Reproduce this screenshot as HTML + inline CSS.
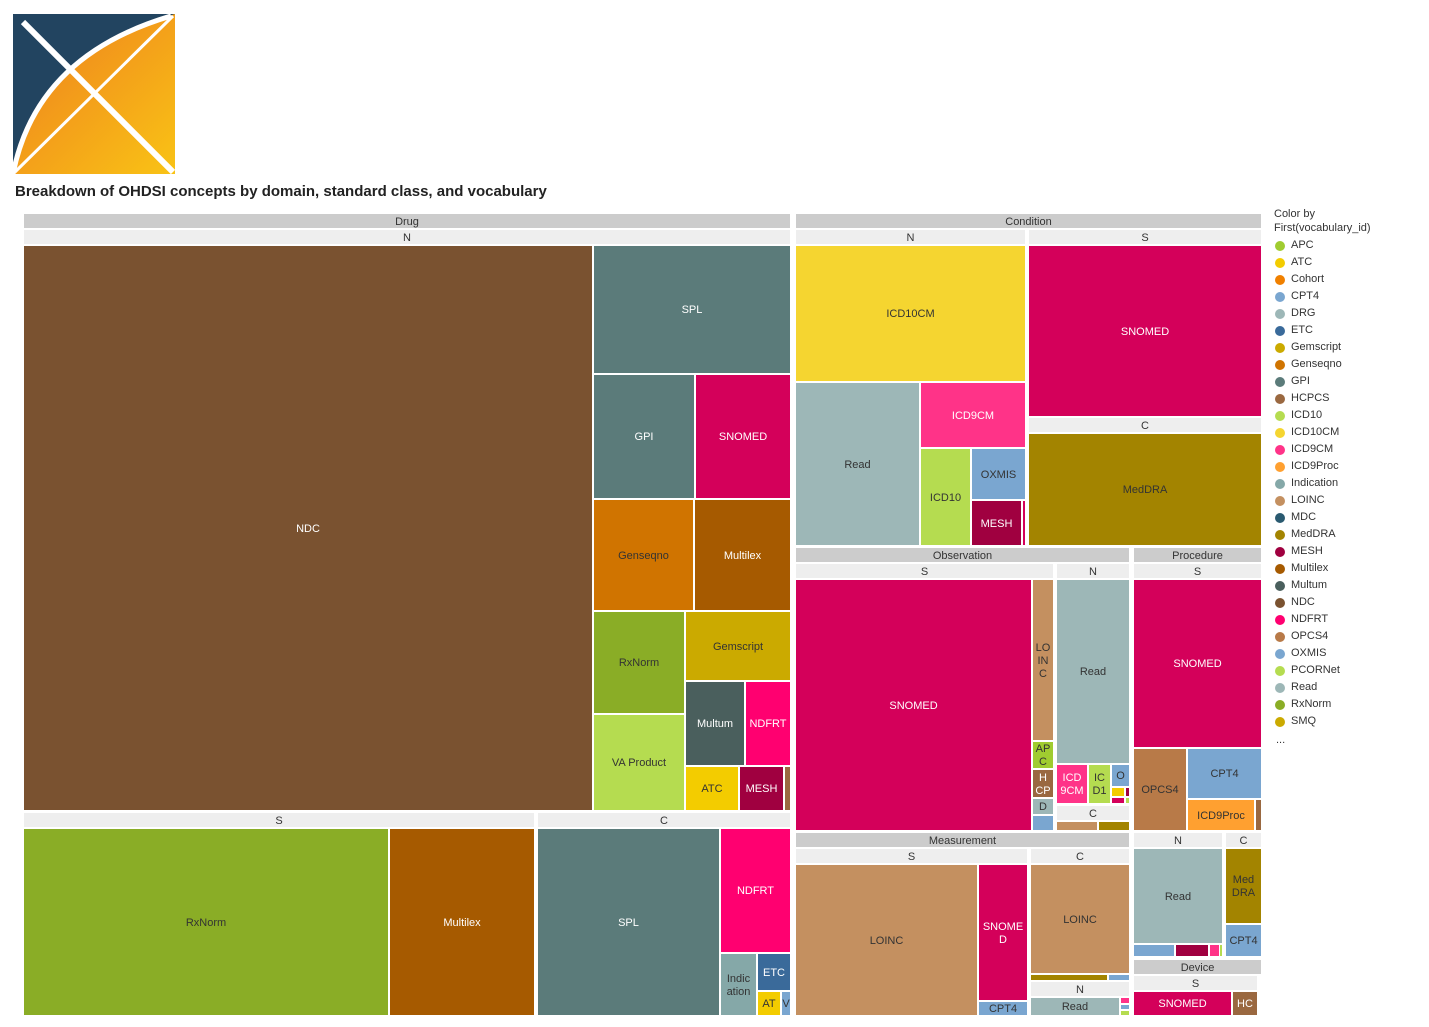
<!DOCTYPE html>
<html><head><meta charset="utf-8">
<style>
body{margin:0;width:1429px;height:1027px;background:#fff;position:relative;overflow:hidden;font-family:"Liberation Sans",sans-serif}
.c{position:absolute;display:flex;align-items:center;justify-content:center;text-align:center;font-size:11px;line-height:13px;overflow:hidden;box-sizing:border-box;padding-top:2px}
.h{position:absolute;display:flex;align-items:center;justify-content:center;font-size:11px;color:#333;box-sizing:border-box;padding-top:2px}
.lg{position:absolute;font-size:11px;color:#333}
.dot{position:absolute;width:10px;height:10px;border-radius:50%}
</style></head><body>
<svg style="position:absolute;left:13px;top:14px" width="162" height="160" viewBox="0 0 162 160">
<defs><linearGradient id="g" x1="0" y1="0" x2="1" y2="1"><stop offset="0" stop-color="#ee7d1f"/><stop offset="1" stop-color="#f9c315"/></linearGradient></defs>
<rect width="162" height="160" fill="#224460"/>
<path d="M0 160 Q25 40 162 0 L162 160 Z" fill="url(#g)"/>
<path d="M0 160 Q23 42 158 2" stroke="#fff" stroke-width="5" fill="none"/>
<line x1="10" y1="8" x2="160" y2="158" stroke="#fff" stroke-width="6"/>
<line x1="2" y1="158" x2="160" y2="2" stroke="#fff" stroke-width="3"/>
</svg>
<div style="position:absolute;left:15px;top:183px;font-size:15px;font-weight:bold;color:#222">Breakdown of OHDSI concepts by domain, standard class, and vocabulary</div>
<div id="tm"></div>
<div id="legend"></div>
<script>
const headers=[
["Drug",24,214,790,228,1],["N",24,230,790,244,0],["S",24,813,534,827,0],["C",538,813,790,827,0],
["Condition",796,214,1261,228,1],["N",796,230,1025,244,0],["S",1029,230,1261,244,0],["C",1029,418,1261,432,0],
["Observation",796,548,1129,562,1],["S",796,564,1053,578,0],["N",1057,564,1129,578,0],["C",1057,806,1129,820,0],
["Procedure",1134,548,1261,562,1],["S",1134,564,1261,578,0],["N",1134,833,1222,847,0],["C",1226,833,1261,847,0],
["Device",1134,960,1261,974,1],["S",1134,976,1257,990,0],
["Measurement",796,833,1129,847,1],["S",796,849,1027,863,0],["C",1031,849,1129,863,0],["N",1031,982,1129,996,0]];
const col={NDC:"#7a5230",SPL:"#5b7b7a",GPI:"#5b7b7a",SNOMED:"#d4005a",Genseqno:"#d07400",Multilex:"#a65a00",RxNorm:"#8aad26",VA:"#b5dc50",Gemscript:"#cbaa00",Multum:"#4a5f5d",NDFRT:"#ff0070",ATC:"#f3cc00",MESH:"#a00040",HCPCS:"#9a6840",Ind:"#85a8a8",ETC:"#3a6a9a",OX:"#7aa6d0",ICD10CM:"#f5d530",Read:"#9db7b7",ICD9CM:"#ff3388",ICD10:"#b5dc50",MedDRA:"#a38400",LOINC:"#c49060",APC:"#a0cc30",OPCS4:"#b87a48",CPT4:"#7aa6d0",ICD9Proc:"#ffa030"};
const dark={NDC:1,SPL:1,GPI:1,SNOMED:1,Multilex:1,Multum:1,NDFRT:1,MESH:1,ETC:1,ICD9CM:1,HCPCS:1};
const cells=[
["NDC","NDC",24,246,592,810],["SPL","SPL",594,246,790,373],["GPI","GPI",594,375,694,498],["SNOMED","SNOMED",696,375,790,498],
["Genseqno","Genseqno",594,500,693,610],["Multilex","Multilex",695,500,790,610],["RxNorm","RxNorm",594,612,684,713],["VA","VA Product",594,715,684,810],
["Gemscript","Gemscript",686,612,790,680],["Multum","Multum",686,682,744,765],["NDFRT","NDFRT",746,682,790,765],["ATC","ATC",686,767,738,810],["MESH","MESH",740,767,783,810],["HCPCS","",785,767,790,810],
["RxNorm","RxNorm",24,829,388,1015],["Multilex","Multilex",390,829,534,1015],["SPL","SPL",538,829,719,1015],["NDFRT","NDFRT",721,829,790,952],
["Ind","Indic<br>ation",721,954,756,1015],["ETC","ETC",758,954,790,990],["ATC","AT",758,992,780,1015],["OX","V",782,992,790,1015],
["ICD10CM","ICD10CM",796,246,1025,381],["Read","Read",796,383,919,545],["ICD9CM","ICD9CM",921,383,1025,447],["ICD10","ICD10",921,449,970,545],
["OX","OXMIS",972,449,1025,499],["MESH","MESH",972,501,1021,545],["SNOMED","",1023,501,1025,545],["SNOMED","SNOMED",1029,246,1261,416],["MedDRA","MedDRA",1029,434,1261,545],
["SNOMED","SNOMED",796,580,1031,830],["LOINC","LO<br>IN<br>C",1033,580,1053,740],["APC","AP<br>C",1033,742,1053,768],["HCPCS","H<br>CP",1033,770,1053,797],["Read","D",1033,799,1053,814],["OX","",1033,816,1053,830],
["Read","Read",1057,580,1129,763],["ICD9CM","ICD<br>9CM",1057,765,1087,803],["ICD10","IC<br>D1",1089,765,1110,803],["OX","O",1112,765,1129,786],
["ATC","",1112,788,1124,796],["MESH","",1126,788,1129,796],["SNOMED","",1112,798,1124,803],["ICD10","",1126,798,1129,803],
["LOINC","",1057,822,1097,830],["MedDRA","",1099,822,1129,830],
["SNOMED","SNOMED",1134,580,1261,747],["OPCS4","OPCS4",1134,749,1186,830],["CPT4","CPT4",1188,749,1261,798],["ICD9Proc","ICD9Proc",1188,800,1254,830],["HCPCS","",1256,800,1261,830],
["Read","Read",1134,849,1222,943],["OX","",1134,945,1174,956],["MESH","",1176,945,1208,956],["ICD9CM","",1210,945,1219,956],["ICD10","",1220,945,1222,956],
["MedDRA","Med<br>DRA",1226,849,1261,923],["CPT4","CPT4",1226,925,1261,956],
["SNOMED","SNOMED",1134,992,1231,1015],["HCPCS","HC",1233,992,1257,1015],
["LOINC","LOINC",796,865,977,1015],["SNOMED","SNOME<br>D",979,865,1027,1000],["CPT4","CPT4",979,1002,1027,1015],
["LOINC","LOINC",1031,865,1129,973],["MedDRA","",1031,975,1107,980],["OX","",1109,975,1129,980],
["Read","Read",1031,998,1119,1015],["ICD9CM","",1121,998,1129,1003],["OX","",1121,1005,1129,1009],["ICD10","",1121,1011,1129,1015]];
const tm=document.getElementById('tm');
headers.forEach(h=>{const d=document.createElement('div');d.className='h';


d.style.cssText=`left:${h[1]}px;top:${h[2]}px;width:${h[3]-h[1]}px;height:${h[4]-h[2]}px;background:${h[5]?'#cccccc':'#eeeeee'}`;d.textContent=h[0];tm.appendChild(d);});
cells.forEach(c=>{const d=document.createElement('div');d.className='c';


d.style.cssText=`left:${c[2]}px;top:${c[3]}px;width:${c[4]-c[2]}px;height:${c[5]-c[3]}px;background:${col[c[0]]};color:${dark[c[0]]?'#fff':'#333'}`;d.innerHTML=c[1];tm.appendChild(d);});
const legNames=["APC","ATC","Cohort","CPT4","DRG","ETC","Gemscript","Genseqno","GPI","HCPCS","ICD10","ICD10CM","ICD9CM","ICD9Proc","Indication","LOINC","MDC","MedDRA","MESH","Multilex","Multum","NDC","NDFRT","OPCS4","OXMIS","PCORNet","Read","RxNorm","SMQ"];
const legCols=["#a0cc30","#f3cc00","#f08000","#7aa6d0","#9db7b7","#3a6a9a","#cbaa00","#d07400","#5b7b7a","#9a6840","#b5dc50","#f5d530","#ff3388","#ffa030","#85a8a8","#c49060","#2a5a70","#a38400","#a00040","#a65a00","#4a5f5d","#7a5230","#ff0070","#b87a48","#7aa6d0","#b5dc50","#9db7b7","#8aad26","#cbaa00"];
const lg=document.getElementById('legend');
let t=document.createElement('div');t.className='lg';t.style.cssText='left:1274px;top:207px;line-height:14px';t.innerHTML='Color by<br>First(vocabulary_id)';


lg.appendChild(t);
legNames.forEach((n,i)=>{const y=246+i*17;const d=document.createElement('div');d.className='dot';d.style.cssText=`left:1275px;top:${y-5}px;background:${legCols[i]}`;


lg.appendChild(d);const s=document.createElement('div');s.className='lg';s.style.cssText=`left:1291px;top:${y-7}px`;s.textContent=n;


lg.appendChild(s);});
t=document.createElement('div');t.className='lg';t.style.cssText='left:1276px;top:734px';t.textContent='...';


lg.appendChild(t);
</script>
</body></html>
